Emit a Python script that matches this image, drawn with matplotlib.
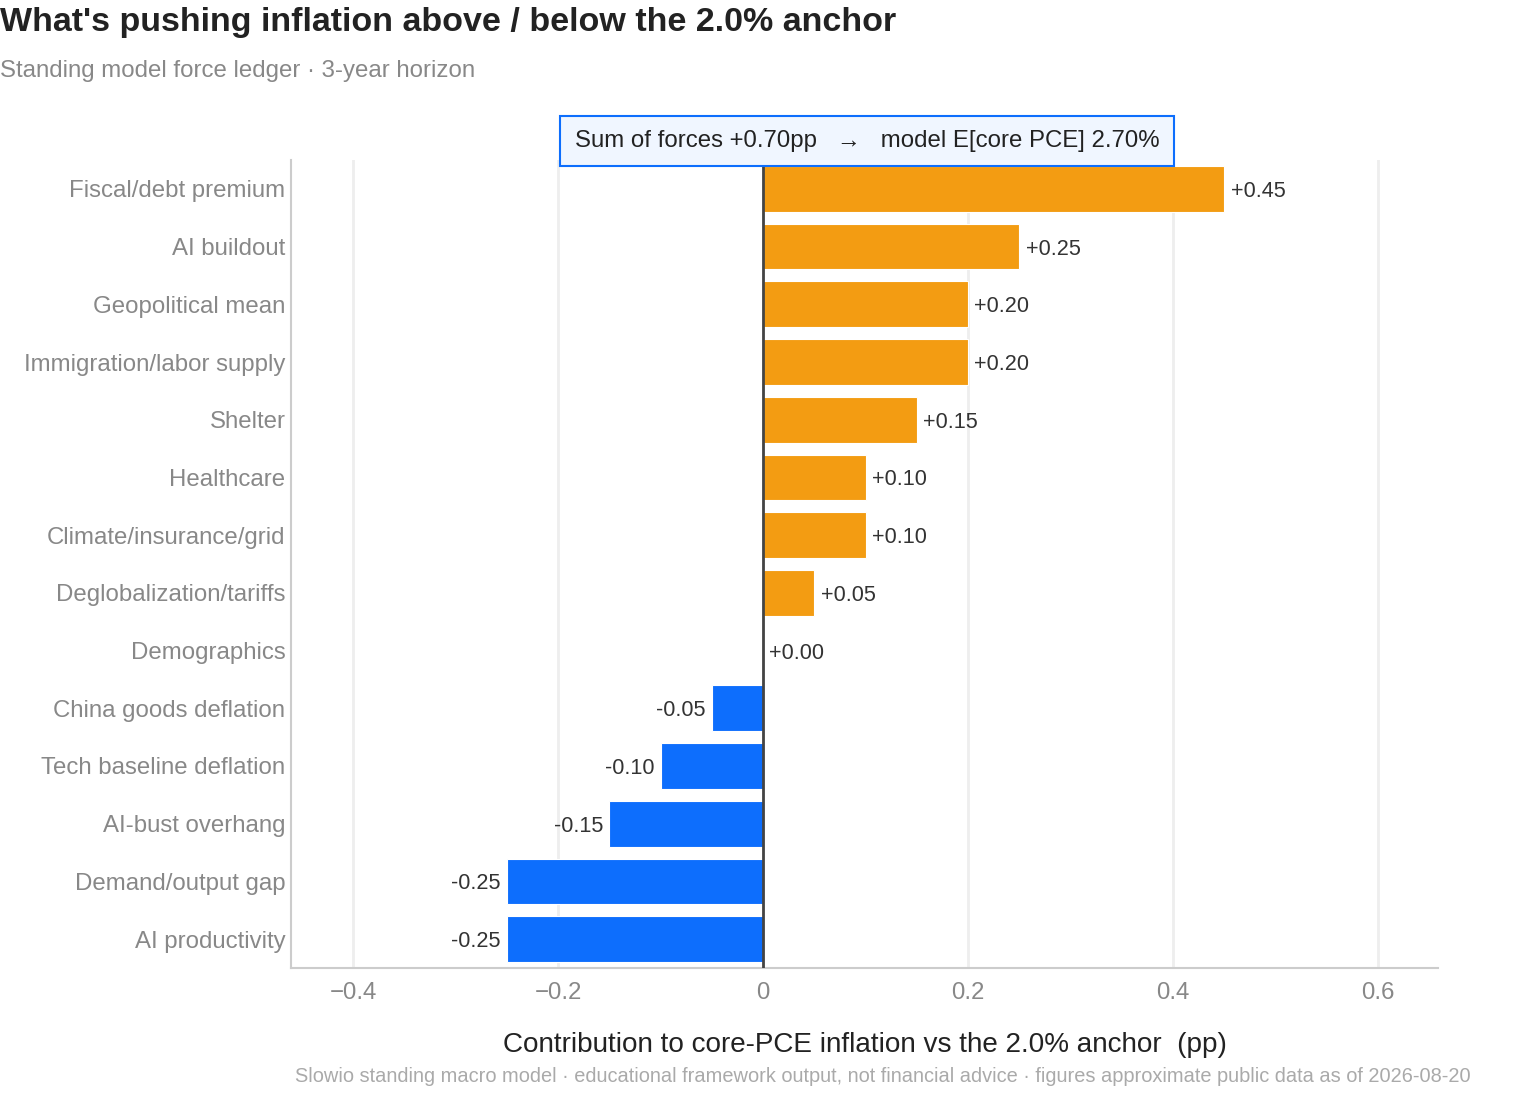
import matplotlib.pyplot as plt
from matplotlib.ticker import FuncFormatter

plt.rcParams['font.family'] = ['Liberation Sans', 'DejaVu Sans']

# forces (pp), top to bottom
forces = ['Fiscal/debt premium', 'AI buildout', 'Geopolitical mean',
          'Immigration/labor supply', 'Shelter', 'Healthcare',
          'Climate/insurance/grid', 'Deglobalization/tariffs', 'Demographics',
          'China goods deflation', 'Tech baseline deflation', 'AI-bust overhang',
          'Demand/output gap', 'AI productivity']
values = [0.45, 0.25, 0.20, 0.20, 0.15, 0.10, 0.10, 0.05, 0.00,
          -0.05, -0.10, -0.15, -0.25, -0.25]
anchor = 2.0
total = sum(values)

up_col = '#F39C12'
down_col = '#0D6EFD'

fig = plt.figure(figsize=(15.2, 11.2), dpi=100)
ax = fig.add_axes([291/1520, 1-968/1120, 1147/1520, 808/1120])

ypos = list(range(len(forces)))
cols = [up_col if v >= 0 else down_col for v in values]
ax.barh(ypos, values, height=0.79, color=cols, edgecolor='white', linewidth=0.8, zorder=3)

# value labels
for y, v in zip(ypos, values):
    if v >= 0:
        ax.annotate(f'+{v:.2f}', (v, y), xytext=(4.5, 0), textcoords='offset points',
                    ha='left', va='center_baseline', fontsize=15.6, color='#333333', zorder=5)
    else:
        ax.annotate(f'{v:.2f}', (v, y), xytext=(-4.5, 0), textcoords='offset points',
                    ha='right', va='center_baseline', fontsize=15.6, color='#333333', zorder=5)

ax.axvline(0, color='#444444', lw=2, zorder=4)

ax.set_xlim(-0.4605, 0.6585)
ax.set_ylim(13.5, -0.5)
ax.set_yticks(ypos)
ax.set_yticklabels(forces)
ax.set_xticks([-0.4, -0.2, 0, 0.2, 0.4, 0.6])
ax.xaxis.set_major_formatter(FuncFormatter(
    lambda x, p: '0' if abs(x) < 1e-9 else f'{x:.1f}'.replace('-', '\u2212')))
ax.tick_params(axis='y', length=0, pad=4, labelsize=17.3, labelcolor='#888888')
ax.tick_params(axis='x', length=0, pad=10, labelsize=17.3, labelcolor='#888888')
ax.grid(axis='x', color='#eeeeee', lw=2, zorder=0)
ax.grid(axis='y', visible=False)
for s in ['top', 'right']:
    ax.spines[s].set_visible(False)
for s in ['left', 'bottom']:
    ax.spines[s].set_color('#cccccc')
    ax.spines[s].set_linewidth(1.5)
ax.set_xlabel(f'Contribution to core-PCE inflation vs the {anchor:.1f}% anchor  (pp)',
              fontsize=20.1, color='#222222', labelpad=20)

fig.text(0.0, 1-23/1120, f"What's pushing inflation above / below the {anchor:.1f}% anchor",
         fontsize=24.5, fontweight='bold', color='#222222', va='center', ha='left')
fig.text(0.0, 1-71/1120, 'Standing model force ledger \u00b7 3-year horizon',
         fontsize=17.3, color='#888888', va='center', ha='left')

fig.text(867/1520, 1-141/1120,
         f'Sum of forces +{total:.2f}pp   \u2192   model E[core PCE] {anchor + total:.2f}%',
         fontsize=17.3, color='#222222', ha='center', va='center',
         bbox=dict(boxstyle='square,pad=0.6', fc='#f0f6ff', ec=down_col, lw=1.5))

fig.text(883/1520, 1-1076/1120,
         'Slowio standing macro model \u00b7 educational framework output, not financial advice '
         '\u00b7 figures approximate public data as of 2026-08-20',
         fontsize=14.4, color='#aaaaaa', ha='center', va='center')

fig.savefig('out.png', dpi=100)
